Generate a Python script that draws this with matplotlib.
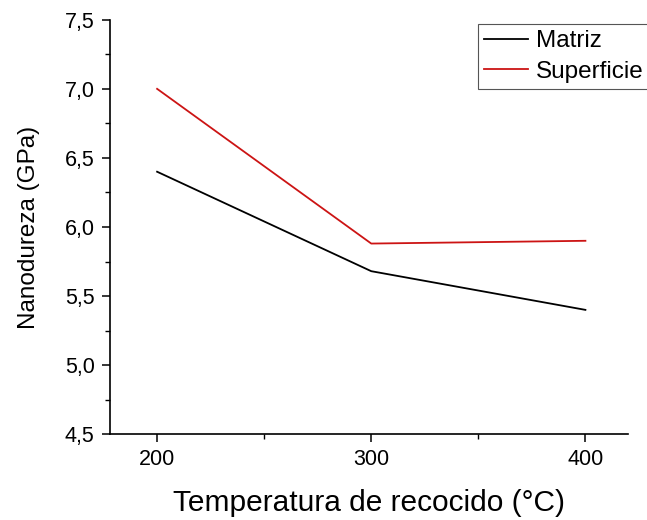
import matplotlib
matplotlib.use('Agg')
import matplotlib.pyplot as plt
from matplotlib.ticker import MultipleLocator

plt.rcParams['font.family'] = ['Liberation Sans', 'DejaVu Sans']

temperatura = [200, 300, 400]
matriz = [6.40, 5.68, 5.40]
superficie = [7.00, 5.88, 5.90]

fig = plt.figure(figsize=(6.47, 5.2), dpi=100)
ax = fig.add_axes([0.170, 0.165, 0.801, 0.797])

ax.plot(temperatura, matriz, color='black', lw=1.3, label='Matriz')
ax.plot(temperatura, superficie, color='#cc1414', lw=1.3, label='Superficie')

ax.set_xlim(178, 420)
ax.set_ylim(4.5, 7.5)
ax.xaxis.set_major_locator(MultipleLocator(100))
ax.xaxis.set_minor_locator(MultipleLocator(50))
ax.yaxis.set_major_locator(MultipleLocator(0.5))
ax.yaxis.set_minor_locator(MultipleLocator(0.25))
ax.yaxis.set_major_formatter(plt.FuncFormatter(lambda v, p: f"{v:.1f}".replace('.', ',')))

for s in ['top', 'right']:
    ax.spines[s].set_visible(False)
for s in ['left', 'bottom']:
    ax.spines[s].set_linewidth(1.2)
ax.tick_params(which='major', direction='out', length=6, width=1.1, labelsize=15.5, pad=5)
ax.tick_params(which='minor', direction='out', length=3.5, width=1.0)

ax.set_xlabel('Temperatura de recocido (°C)', fontsize=21.5, labelpad=13)
ax.set_ylabel('Nanodureza (GPa)', fontsize=17.5, labelpad=18)

leg = fig.legend(loc='upper left', bbox_to_anchor=(478/647, 1-24/520),
                 borderaxespad=0, fontsize=17.5, fancybox=False, framealpha=1,
                 edgecolor='#555555', handlelength=1.8, handletextpad=0.35,
                 borderpad=0.25, labelspacing=0.35)
leg.get_frame().set_linewidth(0.8)

plt.savefig('out.png', dpi=100)
